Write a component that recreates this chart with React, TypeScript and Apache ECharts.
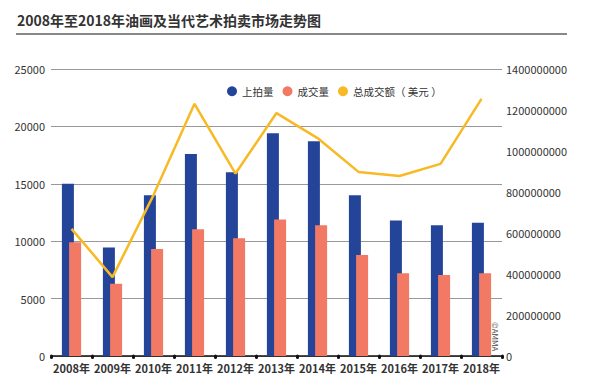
import React, { useEffect, useRef } from "react";
import * as echarts from "echarts";

const years = ["2008年", "2009年", "2010年", "2011年", "2012年", "2013年", "2014年", "2015年", "2016年", "2017年", "2018年"];
const lots = [15000, 9450, 14000, 17600, 16000, 19400, 18700, 14000, 11800, 11400, 11600];
const sold = [9900, 6300, 9320, 11050, 10250, 11900, 11400, 8800, 7200, 7050, 7200];
const turnover = [620000000, 385000000, 785000000, 1230000000, 890000000, 1185000000, 1063000000, 898000000, 878000000, 937000000, 1254000000];

const FONT = "'Noto Sans CJK SC', 'Noto Sans', sans-serif";

export default function App() {
  const ref = useRef<HTMLDivElement>(null);
  useEffect(() => {
    if (!ref.current) return;
    const chart = echarts.init(ref.current, null, { renderer: "svg" });
    chart.setOption({
      animation: false,
      backgroundColor: "#ffffff",
      textStyle: { fontFamily: FONT },
      title: {
        text: "2008年至2018年油画及当代艺术拍卖市场走势图",
        left: 12,
        top: 8,
        textStyle: { fontSize: 14, fontWeight: "bold", color: "#333333", fontFamily: FONT },
      },
      graphic: [
        { type: "line", shape: { x1: 16, y1: 34, x2: 567, y2: 34 }, style: { stroke: "#888888", lineWidth: 2 } },
        {
          type: "text",
          x: 499,
          y: 322,
          z: 100,
          rotation: -Math.PI / 2,
          style: { text: "©AMMA", fontSize: 8, fill: "#444", fontFamily: FONT },
        },
      ],
      legend: {
        left: 222,
        top: 81,
        itemWidth: 10,
        itemHeight: 10,
        itemGap: 9,
        icon: "circle",
        textStyle: { fontSize: 10.5, color: "#333", fontFamily: FONT },
        data: ["上拍量", "成交量", "总成交额（ 美元 ）"],
      },
      grid: { left: 51, right: 87, top: 69, bottom: 33, containLabel: false },
      xAxis: {
        type: "category",
        data: years,
        boundaryGap: true,
        axisLine: { lineStyle: { color: "#111", width: 1.5 } },
        axisTick: { show: true, length: 1.5, lineStyle: { color: "#111", width: 3, cap: "round" } },
        axisLabel: { fontSize: 11, fontWeight: "bold", color: "#333", margin: 6, interval: 0, fontFamily: FONT },
      },
      yAxis: [
        {
          type: "value",
          min: 0,
          max: 25000,
          interval: 5000,
          axisLine: { show: false },
          axisTick: { show: false },
          splitLine: { lineStyle: { color: "#999", width: 1 } },
          axisLabel: { fontSize: 11, color: "#333", margin: 6, fontFamily: FONT, formatter: (v: number) => String(v) },
        },
        {
          type: "value",
          min: 0,
          max: 1400000000,
          interval: 200000000,
          axisLine: { show: false },
          axisTick: { show: false },
          splitLine: { show: false },
          axisLabel: { fontSize: 11, color: "#333", margin: 4, fontFamily: FONT, formatter: (v: number) => String(v) },
        },
      ],
      series: [
        {
          name: "上拍量",
          type: "bar",
          data: lots,
          barWidth: 12,
          barGap: "-40%",
          itemStyle: { color: "#24449a" },
        },
        {
          name: "成交量",
          type: "bar",
          data: sold,
          barWidth: 12,
          itemStyle: { color: "#f27a64" },
        },
        {
          name: "总成交额（ 美元 ）",
          type: "line",
          yAxisIndex: 1,
          data: turnover,
          symbol: "none",
          lineStyle: { color: "#f7b924", width: 2.5 },
          itemStyle: { color: "#f7b924" },
        },
      ],
    });
    return () => chart.dispose();
  }, []);
  return <div ref={ref} style={{ position: "fixed", left: 0, top: 0, width: 589, height: 389 }} />;
}
